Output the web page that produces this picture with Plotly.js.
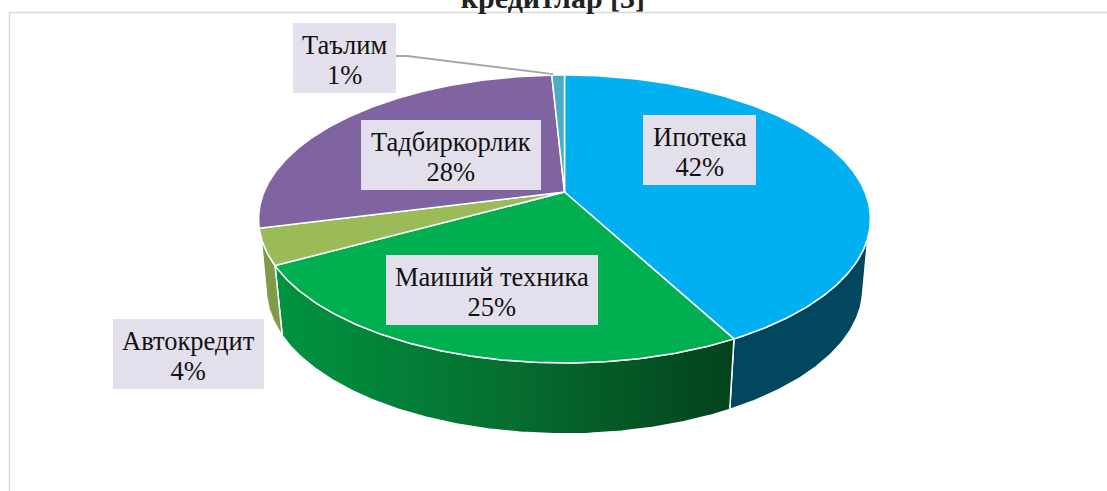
<!DOCTYPE html>
<html>
<head>
<meta charset="utf-8">
<script src="https://cdn.plot.ly/plotly-3.0.1.min.js"></script>
<style>html,body{margin:0;padding:0;background:#fff;overflow:hidden}#c{width:1107px;height:491px}</style>
</head>
<body>
<div id="c"></div>
<script>
const categories = ['Ипотека', 'Маиший техника', 'Автокредит', 'Тадбиркорлик', 'Таълим'];
const values = [42.2, 24.8, 4, 28.2, 0.8];
const topColors = ['#00B0F0', '#00B050', '#9BBB59', '#8064A2', '#4BACC6'];
const wallColors = ['#02465F', null, '#7F9A48', null, null];
const greenWallScale = [[0, '#009440'], [0.5, '#066F30'], [1, '#03421C']];

// label box centres and sizes
const labelX = [699.5, 492, 188.5, 451, 344.5];
const labelY = [150, 290, 354, 155, 58];
const labelW = [113, 212, 151, 180, 103];
const labelH = [70, 70, 70, 70, 70];
const labelTextShift = 2;

// projection of the tilted disc into chart units
const cx = 564.5, cyTop = 192, cyBot = 261.5;
const rx = 300.5, ryTop = 138.9, ryBot = 140, persp = 0.1875, botScale = 0.975;
const wallFrom = {top: 108, bot: 104}, wallTo = {top: 252, bot: 256};

function topPt(deg) {
  const t = deg * Math.PI / 180, u = Math.sin(t), v = Math.cos(t), w = 1 + persp * v;
  return [cx + rx * u / w, cyTop - ryTop * v / w];
}
function botPt(deg) {
  const t = deg * Math.PI / 180, u = Math.sin(t), v = Math.cos(t), w = 1 + persp * v;
  return [cx + botScale * rx * u / w, cyBot - ryBot * v / w];
}
function arc(fn, a, b) {
  const n = Math.max(2, Math.ceil(Math.abs(b - a) * 2)), out = [];
  for (let i = 0; i <= n; i++) out.push(fn(a + (b - a) * i / n));
  return out;
}
function polyTrace(pts, color, name, extra) {
  return Object.assign({
    type: 'scatter', mode: 'lines', name: name,
    x: pts.map(p => p[0]), y: pts.map(p => p[1]),
    fill: 'toself', fillcolor: color,
    line: {color: '#FFFFFF', width: 1.5},
    hoverinfo: 'skip', showlegend: false
  }, extra || {});
}

const total = values.reduce((s, v) => s + v, 0);
const traces = [], wallTraces = [];
let acc = 0;
const spans = values.map(v => { const a = acc; acc += v; return [a / total * 360, acc / total * 360]; });

spans.forEach((s, i) => {
  const ta = Math.max(s[0], wallFrom.top), tb = Math.min(s[1], wallTo.top);
  const ba = Math.max(s[0], wallFrom.bot), bb = Math.min(s[1], wallTo.bot);
  if (ta < tb && ba < bb) {
    const pts = arc(topPt, ta, tb).concat(arc(botPt, bb, ba));
    pts.push(pts[0]);
    const isGreen = !wallColors[i];
    wallTraces.push(polyTrace(pts, wallColors[i] || '#066F30', categories[i] + ' wall',
      isGreen ? {fillgradient: {type: 'horizontal', colorscale: greenWallScale}} : {}));
  }
});
traces.push(...wallTraces);

spans.forEach((s, i) => {
  const pts = [[cx, cyTop]].concat(arc(topPt, s[0], s[1]));
  pts.push([cx, cyTop]);
  traces.push(polyTrace(pts, topColors[i], categories[i]));
});

// leader line of the smallest slice
const smallMid = (spans[4][0] + spans[4][1]) / 2, smallPt = topPt(smallMid);
traces.push({
  type: 'scatter', mode: 'lines', name: 'leader',
  x: [labelX[4] + labelW[4] / 2, labelX[4] + labelW[4] / 2 + 11, smallPt[0] - 5],
  y: [labelY[4] - 2, labelY[4] - 2, smallPt[1] - 1],
  line: {color: '#A6A6A6', width: 1.8}, hoverinfo: 'skip', showlegend: false
});

// base size sets the line spacing, the span sets the glyph size
const annotations = categories.map((c, i) => ({
  xref: 'x', yref: 'y', x: labelX[i], y: labelY[i] + labelTextShift,
  xanchor: 'center', yanchor: 'middle', align: 'center',
  showarrow: false, borderpad: 0, borderwidth: 0,
  text: '<span style="font-size:26.5px">' + c + '</span><br><span style="font-size:26.5px">' +
        Math.round(values[i] / total * 100) + '%</span>',
  font: {family: '"Liberation Serif", serif', size: 23, color: '#111111'}
}));

const labelBoxes = categories.map((c, i) => ({
  type: 'rect', layer: 'above', xref: 'x', yref: 'y',
  x0: labelX[i] - labelW[i] / 2, x1: labelX[i] + labelW[i] / 2,
  y0: labelY[i] - labelH[i] / 2, y1: labelY[i] + labelH[i] / 2,
  fillcolor: '#E4DFEC', line: {width: 0}
}));

const layout = {
  width: 1107, height: 491,
  margin: {l: 0, r: 0, t: 0, b: 0},
  paper_bgcolor: '#FFFFFF', plot_bgcolor: '#FFFFFF',
  showlegend: false,
  title: {
    text: '<b>кредитлар [3]</b>',
    xref: 'paper', yref: 'container', x: 0.4995, xanchor: 'center',
    y: 1 - 8 / 491, yanchor: 'bottom',
    font: {family: '"Liberation Serif", serif', size: 30, color: '#222222'}
  },
  xaxis: {range: [0, 1107], visible: false, fixedrange: true},
  yaxis: {range: [491, 0], visible: false, fixedrange: true},
  shapes: [{type: 'rect', layer: 'below', xref: 'x', yref: 'y', x0: 9.5, y0: 12.5, x1: 1300, y1: 700,
            line: {color: '#D9D9D9', width: 1.5}, fillcolor: 'rgba(0,0,0,0)'}].concat(labelBoxes),
  annotations: annotations
};
Plotly.newPlot('c', traces, layout, {displayModeBar: false, staticPlot: true});
</script>
</body>
</html>
